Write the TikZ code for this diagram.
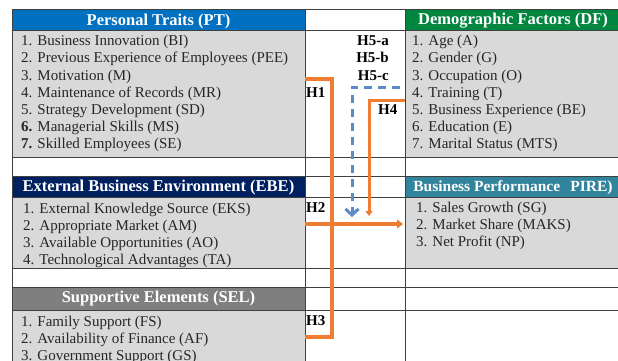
\documentclass[tikz,border=0pt]{standalone}
\usepackage{fontspec}
\setmainfont{Liberation Serif}
\usetikzlibrary{arrows.meta}

\definecolor{ptblue}{HTML}{0070C0}
\definecolor{dfgreen}{HTML}{00863F}
\definecolor{ebenavy}{HTML}{002060}
\definecolor{bpteal}{HTML}{31849B}
\definecolor{selgray}{HTML}{7F7F7F}
\definecolor{bodygray}{HTML}{D9D9D9}
\definecolor{gridc}{HTML}{404040}
\definecolor{hyporange}{HTML}{ED7D31}
\definecolor{hypblue}{HTML}{5B8CC8}

% one table cell: name, left, top, width, height, fill
\newcommand{\tcell}[6]{%
  \node[cell, fill=#6, minimum width=#4pt, minimum height=#5pt] (#1) at (#2,#3) {};}

\begin{document}
\begin{tikzpicture}[x=1pt,y=-1pt,
  cell/.style={anchor=north west, inner sep=0pt, outer sep=0pt, draw=gridc, line width=0.8pt},
  head/.style={text=white, font=\fontsize{16.5}{18}\selectfont\bfseries, anchor=base, inner sep=0pt},
  item/.style={font=\fontsize{15}{17}\selectfont, anchor=base west, inner sep=0pt, text=black!85},
  hyp/.style={font=\fontsize{15}{17}\selectfont\bfseries, inner sep=0pt, text=black},
  link/.style={draw=hyporange, line width=3.8pt, line join=miter},
  thinlink/.style={draw=hyporange, line width=3pt, line join=miter},
  dashlink/.style={draw=hypblue, line width=3pt, dash pattern=on 8pt off 6pt},
]
\useasboundingbox (0,0) rectangle (618,361);

% left column
\tcell{ptH}{12}{9}{293}{21}{ptblue}
\tcell{ptB}{12}{30}{293}{127}{bodygray}
\tcell{gapA}{12}{157}{293}{19}{white}
\tcell{ebeH}{12}{176}{293}{21}{ebenavy}
\tcell{ebeB}{12}{197}{293}{71}{bodygray}
\tcell{gapB}{12}{268}{293}{19}{white}
\tcell{selH}{12}{287}{293}{23}{selgray}
\tcell{selB}{12}{310}{293}{70}{bodygray}

% middle column
\tcell{mA}{305}{9}{100}{21}{white}
\tcell{mB}{305}{30}{100}{127}{white}
\tcell{mC}{305}{157}{100}{19}{white}
\tcell{mD}{305}{176}{100}{21}{white}
\tcell{mE}{305}{197}{100}{71}{white}
\tcell{mF}{305}{268}{100}{19}{white}
\tcell{mG}{305}{287}{100}{23}{white}
\tcell{mH}{305}{310}{100}{70}{white}

% right column
\tcell{dfH}{405}{9}{230}{21}{dfgreen}
\tcell{dfB}{405}{30}{230}{127}{bodygray}
\tcell{rC}{405}{157}{230}{19}{white}
\tcell{bpH}{405}{176}{230}{21}{bpteal}
\tcell{bpB}{405}{197}{230}{71}{bodygray}
\tcell{rF}{405}{268}{230}{19}{white}
\tcell{rG}{405}{287}{230}{23}{white}
\tcell{rH}{405}{310}{230}{70}{white}

% headers
\node[head] (ptT)  at (158.5,25.5) {Personal Traits (PT)};
\node[head] (dfT)  at (513,25)     {Demographic Factors (DF)};
\node[head] (ebeT) at (158.5,191)  {External Business Environment (EBE)};
\node[head, font=\fontsize{15.5}{18}\selectfont\bfseries] (bpT) at (513,191)
  {Business Performance \, PIRE)};
\node[head] (selT) at (158.5,302.5){Supportive Elements (SEL)};

% personal traits
\foreach \t [count=\i] in {1. Business Innovation (BI),
  2. Previous Experience of Employees (PEE),
  3. Motivation (M),
  4. Maintenance of Records (MR),
  5. Strategy Development (SD),
  {\textbf{6.} Managerial Skills (MS)},
  {\textbf{7.} Skilled Employees (SE)}}
  \node[item] (pt\i) at (21,{29+17*\i}) {\t};

% demographic factors
\foreach \t [count=\i] in {1. Age (A), 2. Gender (G), 3. Occupation (O),
  4. Training (T), 5. Business Experience (BE), 6. Education (E),
  7. Marital Status (MTS)}
  \node[item] (df\i) at (412,{29+17*\i}) {\t};

% external business environment
\foreach \t [count=\i] in {1. External Knowledge Source (EKS),
  2. Appropriate Market (AM), 3. Available Opportunities (AO),
  4. Technological Advantages (TA)}
  \node[item] (ebe\i) at (23,{196+17*\i}) {\t};

% business performance
\foreach \t [count=\i] in {1. Sales Growth (SG), 2. Market Share (MAKS),
  3. Net Profit (NP)}
  \node[item] (bp\i) at (416,{195+17*\i}) {\t};

% supportive elements
\foreach \t [count=\i] in {1. Family Support (FS),
  2. Availability of Finance (AF), 3. Government Support (GS)}
  \node[item] (sel\i) at (21,{309+17*\i}) {\t};

% hypothesis labels
\node[hyp, anchor=base east] (h5a) at (389,46) {H5-a};
\node[hyp, anchor=base east] (h5b) at (389,63) {H5-b};
\node[hyp, anchor=base east] (h5c) at (389,80) {H5-c};
\node[hyp, anchor=base west] (h1)  at (306,97) {H1};
\node[hyp, anchor=base west] (h4)  at (378,114) {H4};
\node[hyp, anchor=base west] (h2)  at (306,212) {H2};
\node[hyp, anchor=base west] (h3)  at (306,325) {H3};

% connector end points
\coordinate (h1s) at (ptB.east |- 0,79);
\coordinate (h3s) at (selB.east |- 0,337);
\coordinate (h1x) at (332,79);
\coordinate (h2s) at (ebeB.east |- 0,224);
\coordinate (h2e) at (403,224);
\coordinate (h4s) at (dfB.west |- 0,100);
\coordinate (h4e) at (369,216);
\coordinate (h5s) at (400,87);
\coordinate (h5e) at (352,217);

% hypothesis paths
\draw[link] (h1s) -- (h1x) |- (h3s);
\draw[link, -{Triangle[length=6pt,width=9pt]}] (h2s) -- (h2e);
\draw[thinlink, -{Triangle[length=5pt,width=7pt]}] (h4s) -| (h4e);
\draw[dashlink, -{Straight Barb[length=6pt,width=13pt]}] (h5s) -| (h5e);
\end{tikzpicture}
\end{document}
